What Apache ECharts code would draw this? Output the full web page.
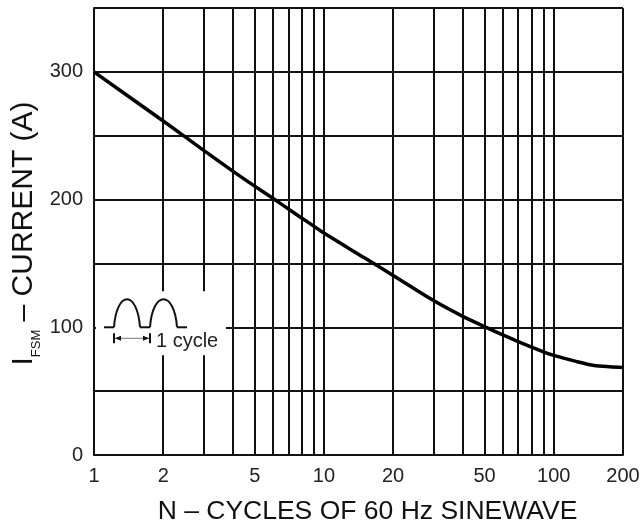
<!DOCTYPE html>
<html><head><meta charset="utf-8">
<script src="https://cdn.jsdelivr.net/npm/echarts@6/dist/echarts.min.js"></script>
<style>html,body{margin:0;padding:0;background:#fff}#c{width:642px;height:523px}</style>
</head><body><div id="c"></div>
<script>
// Data
const cycles  = [1, 2, 3, 4, 5, 6, 7, 8, 9, 10, 15, 20, 30, 40, 50, 60, 70, 80, 90, 100, 125, 150, 175, 200];
const current = [300, 261.5, 238.5, 222.5, 210.5, 201, 192.7, 185.6, 179.4, 173.8, 154.4, 140.6, 120.9, 108.7, 100.5, 94, 88.8, 84.5, 80.8, 78, 73.3, 70.1, 69.1, 68.6];
const xLabelValues = [1, 2, 5, 10, 20, 50, 100, 200];
const xGridValues = [1, 2, 3, 4, 5, 6, 7, 8, 9, 10, 20, 30, 40, 50, 60, 70, 80, 90, 100, 200];
const yLabelValues = [0, 100, 200, 300];
const xTitle = 'N – CYCLES OF 60 Hz SINEWAVE';
const insetText = '1 cycle';

const FONT = 'Liberation Sans, Arial, Helvetica, sans-serif';
const INK = '#111';
const chart = echarts.init(document.getElementById('c'), null, {renderer: 'canvas'});

chart.setOption({
  backgroundColor: '#fff',
  animation: false,
  grid: {left: 94, right: 19, top: 8, bottom: 68, containLabel: false, outerBoundsMode: 'none'},
  xAxis: {
    type: 'log', logBase: 10, min: 1, max: 200,
    name: xTitle, nameLocation: 'middle', nameGap: 43, nameMoveOverlap: false,
    nameTextStyle: {fontFamily: FONT, fontSize: 26.5, color: '#111', padding: [0, 0, 0, 18]},
    axisLine: {show: true, lineStyle: {color: INK, width: 2}},
    axisTick: {show: false, customValues: xGridValues},
    axisLabel: {customValues: xLabelValues, fontFamily: FONT, fontSize: 20, color: '#222', margin: 11,
      formatter: v => String(Math.round(v))},
    splitLine: {show: true, lineStyle: {color: INK, width: 2}},
    minorSplitLine: {show: false}
  },
  yAxis: {
    type: 'value', min: 0, max: 350, interval: 50,
    name: '{i|I}{s|FSM}{i| – CURRENT (A)}', nameLocation: 'middle', nameGap: 55, nameRotate: 90, nameMoveOverlap: false,
    nameTextStyle: {
      fontFamily: FONT, color: '#111', padding: [0, 4, 0, 0],
      rich: {
        i: {fontFamily: FONT, fontSize: 30, color: '#111'},
        s: {fontFamily: FONT, fontSize: 13, color: '#111', verticalAlign: 'bottom', padding: [0, 0, -4, 0]}
      }
    },
    axisLine: {show: true, lineStyle: {color: INK, width: 2}},
    axisTick: {show: false},
    axisLabel: {fontFamily: FONT, fontSize: 20, color: '#222', margin: 11,
      formatter: v => yLabelValues.indexOf(v) >= 0 ? String(v) : ''},
    splitLine: {show: true, lineStyle: {color: INK, width: 2}}
  },
  series: [{
    type: 'line',
    data: cycles.map((c, i) => [c, current[i]]),
    smooth: 0.3,
    symbol: 'none',
    lineStyle: {color: '#000', width: 3.5},
    z: 5
  }]
});

// Inset annotation anchored at data point (N=1, I=100)
const a = chart.convertToPixel({xAxisIndex: 0, yAxisIndex: 0}, [1, 100]);
const ax = a[0], ay = a[1];
function hump(x0, w, h) {
  return {type: 'bezierCurve', z: 101,
    shape: {x1: x0, y1: 0, x2: x0 + w, y2: 0, cpx1: x0 + w * 0.1, cpy1: -h * 1.33, cpx2: x0 + w * 0.9, cpy2: -h * 1.33},
    style: {fill: null, stroke: '#111', lineWidth: 2}};
}
function seg(x1, y1, x2, y2, color, w) {
  return {type: 'line', z: 101, shape: {x1: x1, y1: y1, x2: x2, y2: y2}, style: {stroke: color, lineWidth: w}};
}
chart.setOption({
  graphic: [{
    type: 'group', x: ax, y: ay, z: 100,
    children: [
      {type: 'rect', shape: {x: 2, y: -36, width: 130, height: 64}, style: {fill: '#fff'}, z: 100},
      seg(10, 0, 20, 0, '#111', 2),
      hump(20, 26, 28),
      seg(46, 0, 56, 0, '#111', 2),
      hump(56, 27, 28),
      seg(83, 0, 93, 0, '#111', 2),
      seg(20, 11, 56, 11, '#777', 1),
      seg(20, 6, 20, 16, '#111', 2),
      seg(56, 6, 56, 16, '#111', 2),
      {type: 'polygon', shape: {points: [[21, 11], [27, 8.5], [27, 13.5]]}, style: {fill: '#111'}, z: 101},
      {type: 'polygon', shape: {points: [[55, 11], [49, 8.5], [49, 13.5]]}, style: {fill: '#111'}, z: 101},
      {type: 'text', x: 62, y: 14, style: {text: insetText, fontFamily: FONT, fontSize: 20, fill: '#222', verticalAlign: 'middle'}, z: 101}
    ]
  }]
});
</script></body></html>
